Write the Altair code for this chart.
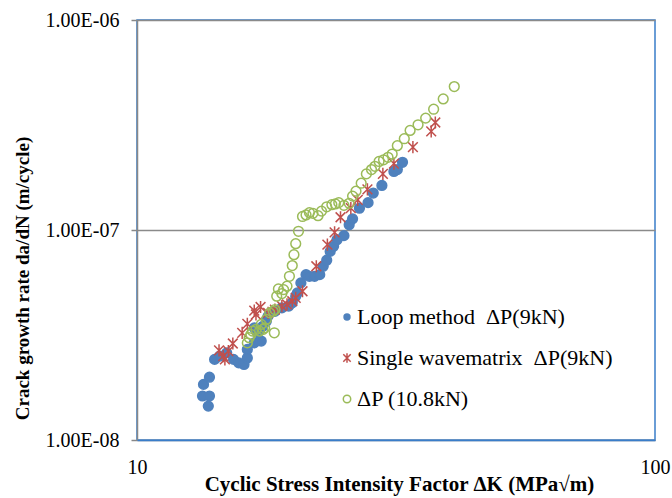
import altair as alt
import pandas as pd

series_names = ["Loop method\u00a0\u00a0ΔP(9kN)", "Single wavematrix\u00a0\u00a0ΔP(9kN)", "\u00a0ΔP (10.8kN)"]

# Loop method ΔP(9kN)
loop_K = [13.73, 13.38, 13.80, 13.44, 13.80, 14.12, 14.45, 14.90, 15.36, 15.72, 16.09, 16.33, 16.33,
          16.84, 17.37, 17.10, 16.84, 17.50, 17.77, 17.91, 18.46, 19.04, 19.63, 19.94, 20.25, 20.40,
          20.72, 21.20, 21.52, 22.02, 22.53, 22.88, 23.24, 23.60, 23.96, 24.33, 25.09, 25.68, 26.07,
          26.88, 27.93, 28.58, 29.70, 31.33, 31.81, 32.55]
loop_rate = [1.45e-8, 1.62e-8, 1.62e-8, 1.84e-8, 1.99e-8, 2.42e-8, 2.51e-8, 2.60e-8, 2.42e-8, 2.33e-8,
             2.29e-8, 2.46e-8, 2.70e-8, 2.90e-8, 2.96e-8, 3.24e-8, 3.42e-8, 3.48e-8, 3.68e-8, 3.89e-8,
             4.10e-8, 4.26e-8, 4.34e-8, 4.50e-8, 4.84e-8, 5.02e-8, 5.60e-8, 6.13e-8, 6.02e-8, 6.02e-8,
             6.13e-8, 6.72e-8, 7.18e-8, 7.91e-8, 8.36e-8, 8.99e-8, 9.40e-8, 1.06e-7, 1.13e-7, 1.27e-7,
             1.35e-7, 1.50e-7, 1.63e-7, 1.90e-7, 1.94e-7, 2.10e-7]

# Single wavematrix ΔP(9kN)
single_K = [14.40, 14.67, 14.78, 15.01, 15.31, 15.96, 16.33, 16.84, 17.32, 16.97, 17.91, 18.46, 19.04,
            19.48, 19.94, 20.25, 20.87, 22.19, 23.31, 24.07, 24.71, 25.87, 26.68, 27.85, 29.83, 31.33,
            34.09, 36.98, 37.66]
single_rate = [2.67e-8, 2.51e-8, 2.42e-8, 2.65e-8, 2.88e-8, 3.24e-8, 3.57e-8, 4.13e-8, 4.30e-8, 3.96e-8,
               4.03e-8, 4.18e-8, 4.34e-8, 4.42e-8, 4.58e-8, 4.75e-8, 5.11e-8, 6.72e-8, 8.52e-8, 9.75e-8,
               1.15e-7, 1.27e-7, 1.39e-7, 1.56e-7, 1.85e-7, 2.07e-7, 2.48e-7, 2.95e-7, 3.25e-7]

# ΔP (10.8kN)
high_K = [16.33, 16.46, 16.59, 16.71, 16.97, 17.24, 17.50, 17.64, 17.37, 17.77, 18.04, 18.32, 18.46,
          18.41, 18.61, 18.75, 19.04, 19.19, 19.48, 19.69, 19.94, 20.09, 20.25, 20.50, 20.87, 21.20,
          21.52, 21.86, 22.36, 22.71, 23.24, 23.78, 24.15, 24.52, 25.09, 25.68, 26.07, 26.47, 27.09,
          27.72, 28.36, 28.80, 29.33, 29.92, 30.52, 31.09, 31.81, 32.81, 33.67, 34.88, 36.08, 37.38,
          39.01, 40.97]
high_rate = [2.90e-8, 3.07e-8, 3.18e-8, 3.30e-8, 3.36e-8, 3.30e-8, 3.36e-8, 3.42e-8, 3.55e-8, 3.75e-8,
             4.03e-8, 4.10e-8, 4.18e-8, 3.24e-8, 4.84e-8, 5.24e-8, 4.98e-8, 5.20e-8, 5.40e-8, 6.02e-8,
             6.77e-8, 7.63e-8, 8.61e-8, 9.86e-8, 1.16e-7, 1.18e-7, 1.21e-7, 1.20e-7, 1.17e-7, 1.23e-7,
             1.29e-7, 1.32e-7, 1.33e-7, 1.35e-7, 1.31e-7, 1.34e-7, 1.45e-7, 1.53e-7, 1.67e-7, 1.85e-7,
             1.94e-7, 2.01e-7, 2.12e-7, 2.16e-7, 2.22e-7, 2.30e-7, 2.52e-7, 2.72e-7, 2.98e-7, 3.17e-7,
             3.41e-7, 3.76e-7, 4.21e-7, 4.82e-7]

x_ticks = [10, 100]
y_ticks = [1e-8, 1e-7, 1e-6]
y_tick_labels = ["1.00E-08", "1.00E-07", "1.00E-06"]

colors = ["#4F81BD", "#C0504D", "#9BBB59"]
fills = ["#4F81BD", "transparent", "transparent"]
star = "M-1,-1L1,1M-1,1L1,-1M0,-1.25L0,1.25"
shapes = ["circle", star, "circle"]

rows = []
for name, ks, rs in zip(series_names, [loop_K, single_K, high_K], [loop_rate, single_rate, high_rate]):
    for k, r in zip(ks, rs):
        rows.append({"series": name, "K": k, "rate": r})
df = pd.DataFrame(rows)

FONT = "Liberation Serif"

label_expr = "datum.value < 5e-8 ? '%s' : datum.value < 5e-7 ? '%s' : '%s'" % tuple(y_tick_labels)

points = alt.Chart(df).mark_point(filled=False, strokeWidth=1.5, opacity=1, size=95).encode(
    x=alt.X("K:Q",
            scale=alt.Scale(type="log", domain=[10, 100], nice=False),
            axis=alt.Axis(values=x_ticks, format="d", title="Cyclic Stress Intensity Factor ΔK (MPa√m)",
                          ticks=False, tickSize=0, labelPadding=17, labelFlush=False, grid=False,
                          domainColor="#3A7DC9", domainWidth=1.5, zindex=1, titleFontSize=21,
                          titleX=262, titleY=44, titleBaseline="middle", titleAnchor="middle")),
    y=alt.Y("rate:Q",
            scale=alt.Scale(type="log", domain=[1e-8, 1e-6], nice=False),
            axis=alt.Axis(values=y_ticks, labelExpr=label_expr, title="Crack growth rate da/dN (m/cycle)",
                          tickSize=6, tickColor="#888888", tickWidth=1.5, labelPadding=12,
                          grid=True, gridColor="#8A8A8A", gridWidth=1.5,
                          domainColor="#888888", domainWidth=1.5, titleFontSize=19,
                          titleAngle=-90, titleX=-115, titleY=258, titleBaseline="middle",
                          titleAlign="center", titleAnchor="middle")),
    color=alt.Color("series:N", scale=alt.Scale(domain=series_names, range=colors), legend=None),
    fill=alt.Fill("series:N", scale=alt.Scale(domain=series_names, range=fills), legend=None),
    shape=alt.Shape("series:N", scale=alt.Scale(domain=series_names, range=shapes), legend=None),
)

# Legend drawn inside the plot area (symbol + label per series)
layers = [points]
for i, name in enumerate(series_names):
    ldf = pd.DataFrame({"series": [name]})
    ypix = 297 + 41 * i
    sym = alt.Chart(ldf).mark_point(
        shape=shapes[i], filled=(i == 0), color=colors[i], size=55, strokeWidth=1.5, opacity=1
    ).encode(x=alt.value(210), y=alt.value(ypix))
    txt = alt.Chart(ldf).mark_text(
        align="left", baseline="middle", font=FONT, fontSize=22, color="#000000"
    ).encode(x=alt.value(220), y=alt.value(ypix), text="series:N")
    layers += [sym, txt]

chart = alt.layer(*layers).properties(
    width=518, height=420,
    padding={"left": 137, "top": 20, "right": 17, "bottom": 58},
    autosize=alt.AutoSizeParams(type="none"),
    background="white",
).configure(
    font=FONT
).configure_view(
    stroke="#3A7DC9", strokeWidth=1.5
).configure_axis(
    labelFont=FONT, labelFontSize=20, labelColor="#000000",
    titleFont=FONT, titleFontWeight="bold", titleColor="#000000",
)

chart.save("out.html", embed_options={"renderer": "svg", "actions": False})
